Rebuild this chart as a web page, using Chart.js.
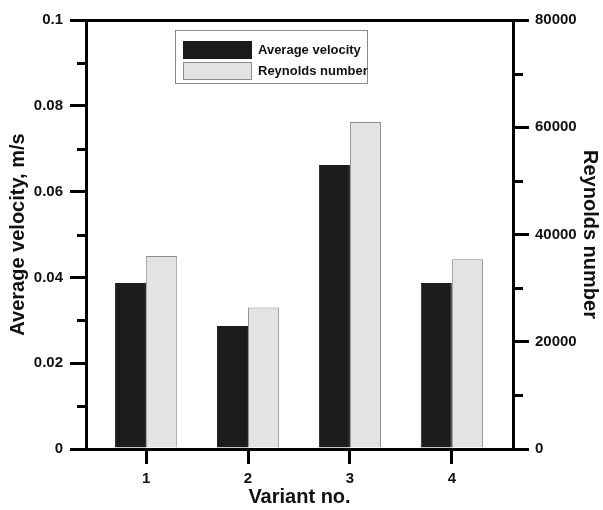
<!DOCTYPE html>
<html>
<head>
<meta charset="utf-8">
<script src="https://cdn.jsdelivr.net/npm/chart.js@4/dist/chart.umd.min.js"></script>
<style>
	body { margin: 0; background: #fff; }
	#wrap { width: 603px; height: 510px; }
</style>
</head>
<body>
<div id="wrap"><canvas id="chart" width="603" height="510"></canvas></div>
<script>
// values
const variants = [1, 2, 3, 4]
const avgVelocity = [0.0387, 0.0287, 0.0662, 0.0387]
const reynolds = [36000, 26400, 61000, 35400]
const velocityTicks = [0, 0.02, 0.04, 0.06, 0.08, 0.1]
const velocityMinor = [0.01, 0.03, 0.05, 0.07, 0.09]
const reynoldsTicks = [0, 20000, 40000, 60000, 80000]
const reynoldsMinor = [10000, 30000, 50000, 70000]

const FONT = "'Liberation Sans', Arial, sans-serif"
const tickFont = { family: FONT, size: 15, weight: "bold" }
const titleFont = { family: FONT, size: 20, weight: "bold" }

// short ticks between the labelled ones, and the frame line on top
const extras = {
	id: "extras",
	afterDraw: (chart) => {
		const ctx = chart.ctx
		const area = chart.chartArea
		ctx.save()
		ctx.strokeStyle = "#000"
		ctx.lineWidth = 3
		const y = chart.scales.y
		velocityMinor.forEach((v) => {
			const py = Math.round(y.getPixelForValue(v)) + 0.5
			ctx.beginPath()
			ctx.moveTo(area.left - 9, py)
			ctx.lineTo(area.left, py)
			ctx.stroke()
		})
		const y1 = chart.scales.y1
		reynoldsMinor.forEach((v) => {
			const py = Math.round(y1.getPixelForValue(v)) + 0.5
			ctx.beginPath()
			ctx.moveTo(area.right, py)
			ctx.lineTo(area.right + 10, py)
			ctx.stroke()
		})
		ctx.beginPath()
		ctx.moveTo(area.left, Math.round(area.top) + 0.5)
		ctx.lineTo(area.right, Math.round(area.top) + 0.5)
		ctx.stroke()

		// legend box
		const lx = area.left + 89
		const ly = area.top + 10
		ctx.lineWidth = 1
		ctx.strokeStyle = "#8a8a8a"
		ctx.strokeRect(lx + 0.5, ly + 0.5, 192, 53)
		chart.data.datasets.forEach((ds, i) => {
			const sy = ly + 11 + i * 21
			ctx.fillStyle = ds.backgroundColor
			ctx.fillRect(lx + 8, sy, 69, 18)
			ctx.strokeStyle = ds.borderColor
			ctx.strokeRect(lx + 8.5, sy + 0.5, 68, 17)
			ctx.fillStyle = "#111"
			ctx.font = "bold 13px " + FONT
			ctx.textBaseline = "middle"
			ctx.textAlign = "left"
			ctx.fillText(ds.label, lx + 83, sy + 9.5)
		})
		ctx.restore()
	},
}

const axisCommon = {
	grid: {
		drawOnChartArea: false,
		color: "#000",
		lineWidth: 3,
		tickLength: 16,
	},
	border: { display: true, color: "#000", width: 3 },
}

const config = {
	type: "bar",
	data: {
		datasets: [
			{
				label: "Average velocity",
				data: variants.map((v, i) => ({ x: v, y: avgVelocity[i] })),
				backgroundColor: "#1c1c1c",
				borderColor: "#1c1c1c",
				borderWidth: 1,
				yAxisID: "y",
			},
			{
				label: "Reynolds number",
				data: variants.map((v, i) => ({ x: v, y: reynolds[i] })),
				backgroundColor: "#e3e3e3",
				borderColor: "#8c8c8c",
				borderWidth: 1,
				yAxisID: "y1",
			},
		],
	},
	options: {
		responsive: false,
		animation: false,
		categoryPercentage: 0.61,
		barPercentage: 1,
		layout: { padding: { top: 20, left: 0, right: 0, bottom: 0 } },
		plugins: { legend: { display: false }, tooltip: { enabled: false } },
		scales: {
			x: {
				type: "linear",
				min: 0.41,
				max: 4.6,
				offset: false,
				...axisCommon,
				grid: { ...axisCommon.grid, tickLength: 15, offset: false },
				afterBuildTicks: (scale) => {
					scale.ticks = variants.map((v) => ({ value: v }))
				},
				afterFit: (scale) => {
					scale.height = 61
				},
				ticks: {
					font: tickFont,
					color: "#111",
					padding: 6,
					maxRotation: 0,
					callback: (v) => String(v),
				},
				title: {
					display: true,
					text: "Variant no.",
					font: titleFont,
					color: "#111",
					padding: { top: 0, bottom: 1 },
				},
			},
			y: {
				type: "linear",
				position: "left",
				min: 0,
				max: 0.1,
				...axisCommon,
				afterBuildTicks: (scale) => {
					scale.ticks = velocityTicks.map((v) => ({ value: v }))
				},
				afterFit: (scale) => {
					scale.width = 86
				},
				ticks: {
					font: tickFont,
					color: "#111",
					padding: 7,
					callback: (v) => String(+v.toFixed(2)),
				},
				title: {
					display: true,
					text: "Average velocity, m/s",
					font: titleFont,
					color: "#111",
					padding: { top: 6, bottom: 0 },
				},
			},
			y1: {
				type: "linear",
				position: "right",
				min: 0,
				max: 80000,
				...axisCommon,
				afterBuildTicks: (scale) => {
					scale.ticks = reynoldsTicks.map((v) => ({ value: v }))
				},
				afterFit: (scale) => {
					scale.width = 90
				},
				ticks: {
					font: tickFont,
					color: "#111",
					padding: 6,
					callback: (v) => String(v),
				},
				title: {
					display: true,
					text: "Reynolds number",
					font: titleFont,
					color: "#111",
					padding: { top: 1, bottom: 0 },
				},
			},
		},
	},
	plugins: [extras],
}

new Chart(document.getElementById("chart"), config)
</script>
</body>
</html>
